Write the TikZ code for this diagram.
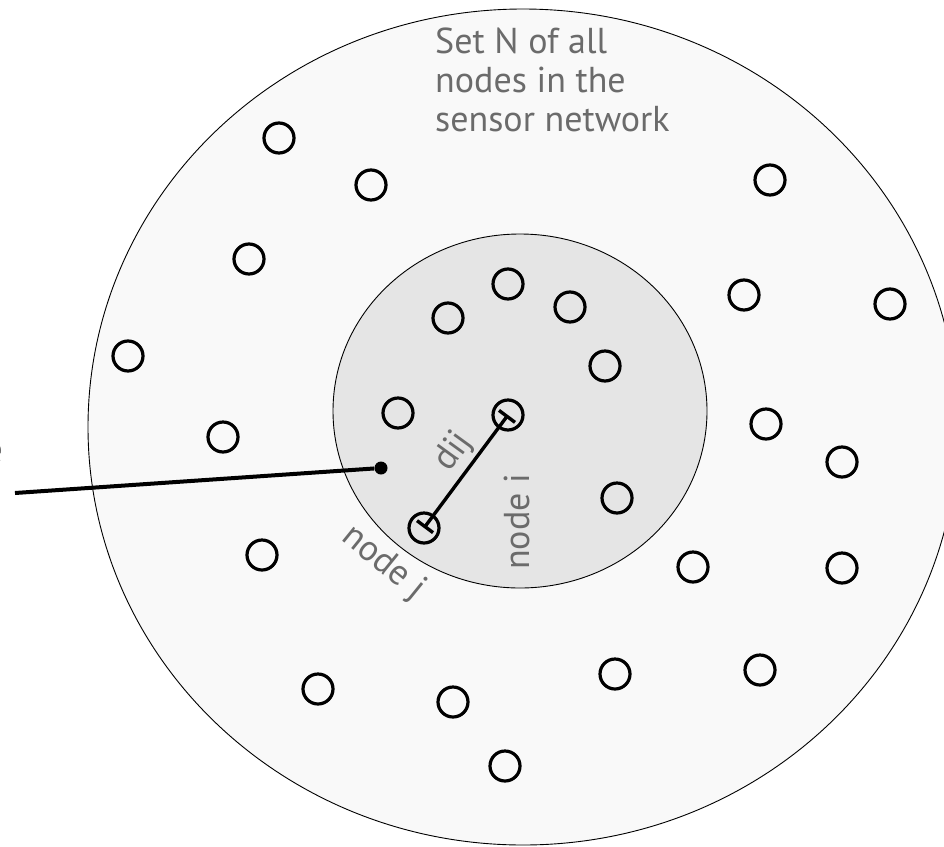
\documentclass[tikz,border=0pt]{standalone}
\usepackage{fontspec}
\setmainfont{PT Sans}
\usepackage{tikz}
\usetikzlibrary{arrows.meta}
\definecolor{outerfill}{HTML}{F9F9F9}
\definecolor{innerfill}{HTML}{E5E5E5}
\definecolor{labelgray}{HTML}{6B6B6B}

\begin{document}
\begin{tikzpicture}[x=1pt,y=-1pt]
\pgfmathsetmacro{\dNode}{30}

\tikzstyle{sensor}=[circle,draw,line width=3.2pt,minimum size=\dNode pt,inner sep=0pt]
\tikzstyle{lbl}=[text=labelgray,font=\fontsize{36}{39}\selectfont,inner sep=0pt]
\useasboundingbox (0,0) rectangle (944,846);
\draw[fill=outerfill,line width=0.9pt] (523,427) ellipse [x radius=435,y radius=418];
\draw[fill=innerfill,line width=0.9pt] (520,411) ellipse [x radius=187,y radius=177];
\foreach \n/\x/\y in {1/279/138,2/371/185,3/770/180,4/249/259,5/508/284,6/570/307,
  7/448/318,8/744/295,9/890/304,10/128/356,11/605/366,12/398/413,14/766/424,
  15/223/437,16/842/462,17/617/498,19/262/555,20/693/567,21/842/568,22/318/689,
  23/615/674,24/760/670,25/453/702,26/505/766}
  \node[sensor] (s\n) at (\x,\y) {};
\node[sensor] (ni) at (508,415) {};
\node[sensor] (nj) at (424,528) {};
\draw[line width=3.4pt,{Bar[width=20pt]}-{Bar[width=20pt]}] (nj.center) -- (ni.center);
\node[lbl,rotate=54] (dij) at (454,452) {dij};
\node[lbl,rotate=90] (lbli) at (517,522) {node i};
\node[lbl,rotate=-39] (lblj) at (383,563) {node j};
\node[lbl,align=left,anchor=north west] (setn) at (435,28) {Set N of all\\nodes in the\\sensor network};
\node[circle,fill,inner sep=0pt,minimum size=13pt] (dot) at (381,468) {};
\coordinate (tail) at (15,493);
\draw[line width=4pt] (tail) -- (dot);
\node[lbl,anchor=base east] (cut) at (3,462) {e};
\end{tikzpicture}
\end{document}
